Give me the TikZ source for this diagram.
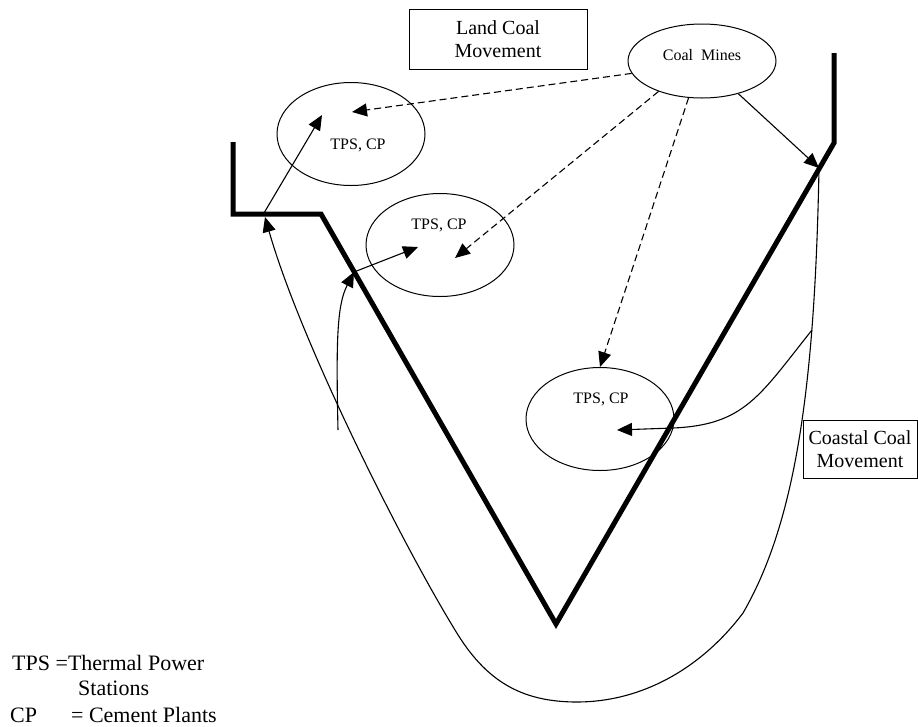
\documentclass[tikz,border=0pt]{standalone}
\usepackage{fontspec}
\setmainfont{Liberation Serif}
\usetikzlibrary{arrows.meta,shapes.geometric}
\tikzset{
	coast/.style={line width=5pt, line join=miter},
	flow/.style={line width=1.1pt, -{Triangle[length=15pt,width=13pt]}},
	landflow/.style={flow, dash pattern=on 7pt off 4pt},
	site/.style={draw, ellipse, line width=1pt, minimum width=148pt, minimum height=103pt, inner sep=0pt},
	sitetext/.style={font=\fontsize{16}{19}\selectfont, inner sep=0pt},
	tagbox/.style={draw, line width=1pt, align=center, inner sep=0pt, font=\fontsize{20}{23}\selectfont},
	keytext/.style={anchor=base west, inner sep=0pt, font=\fontsize{22}{26}\selectfont}
}
\begin{document}
\begin{tikzpicture}[x=1pt,y=-1pt]
	\useasboundingbox (0,0) rectangle (918,726);
	% coast line
	\draw[coast] (233,142) -- (233,214) -- (321,214) -- (556,624) -- (834,143) -- (834,53);
	% plants and mines
	\node[site] (tpsa) at (351,134) {};
	\node[site] (tpsb) at (440,245) {};
	\node[site] (tpsc) at (600,419) {};
	\node[site, minimum height=74pt] (mines) at (702,61) {};
	\node[sitetext] (tpsat) at (358,145) {TPS, CP};
	\node[sitetext] (tpsbt) at (439,225) {TPS, CP};
	\node[sitetext] (tpsct) at (601,399) {TPS, CP};
	\node[sitetext] (minest) at (702,55) {Coal\ \ Mines};
	% boxes
	\node[tagbox, minimum width=178pt, minimum height=60pt] (land) at (498,39) {Land Coal\\Movement};
	\node[tagbox, minimum width=114pt, minimum height=58pt] (coastal) at (860,449) {Coastal Coal\\Movement};
	% points on the coast and in the ellipses
	\coordinate (rhit) at (819,168);
	\coordinate (lhit) at (265,217);
	\coordinate (wa) at (264,213);
	\coordinate (wb) at (354,272);
	\coordinate (sb) at (338,430);
	\coordinate (sc) at (812,330);
	\coordinate (ea) at (322,115);
	\coordinate (eb) at (418,247);
	\coordinate (ec) at (617,430);
	\coordinate (da) at (352,112);
	\coordinate (db) at (455,258);
	% land movement
	\draw[landflow] (mines.190) -- (da);
	\draw[landflow] (mines.215) -- (db);
	\draw[landflow] (mines.250) -- (tpsc.north);
	\draw[flow] (mines.318) -- (rhit);
	% coastal movement
	\draw[flow] (rhit) .. controls (815,380) and (797,520) .. (743,613)
		.. controls (700,670) and (640,702) .. (577,702)
		.. controls (520,702) and (485,680) .. (455,630)
		.. controls (400,540) and (300,340) .. (lhit);
	\draw[flow] (sb) .. controls (336,340) and (337,305) .. (wb);
	\draw[flow] (sc) .. controls (760,395) and (745,425) .. (673,428) -- (ec);
	\draw[flow] (wa) -- (ea);
	\draw[flow] (wb) -- (eb);
	% legend
	\node[keytext] (keytps) at (12,670) {TPS =Thermal Power};
	\node[keytext] (keyst) at (78,695) {Stations};
	\node[keytext] (keycp) at (10,722) {CP\hspace{34pt}= Cement Plants};
\end{tikzpicture}
\end{document}
